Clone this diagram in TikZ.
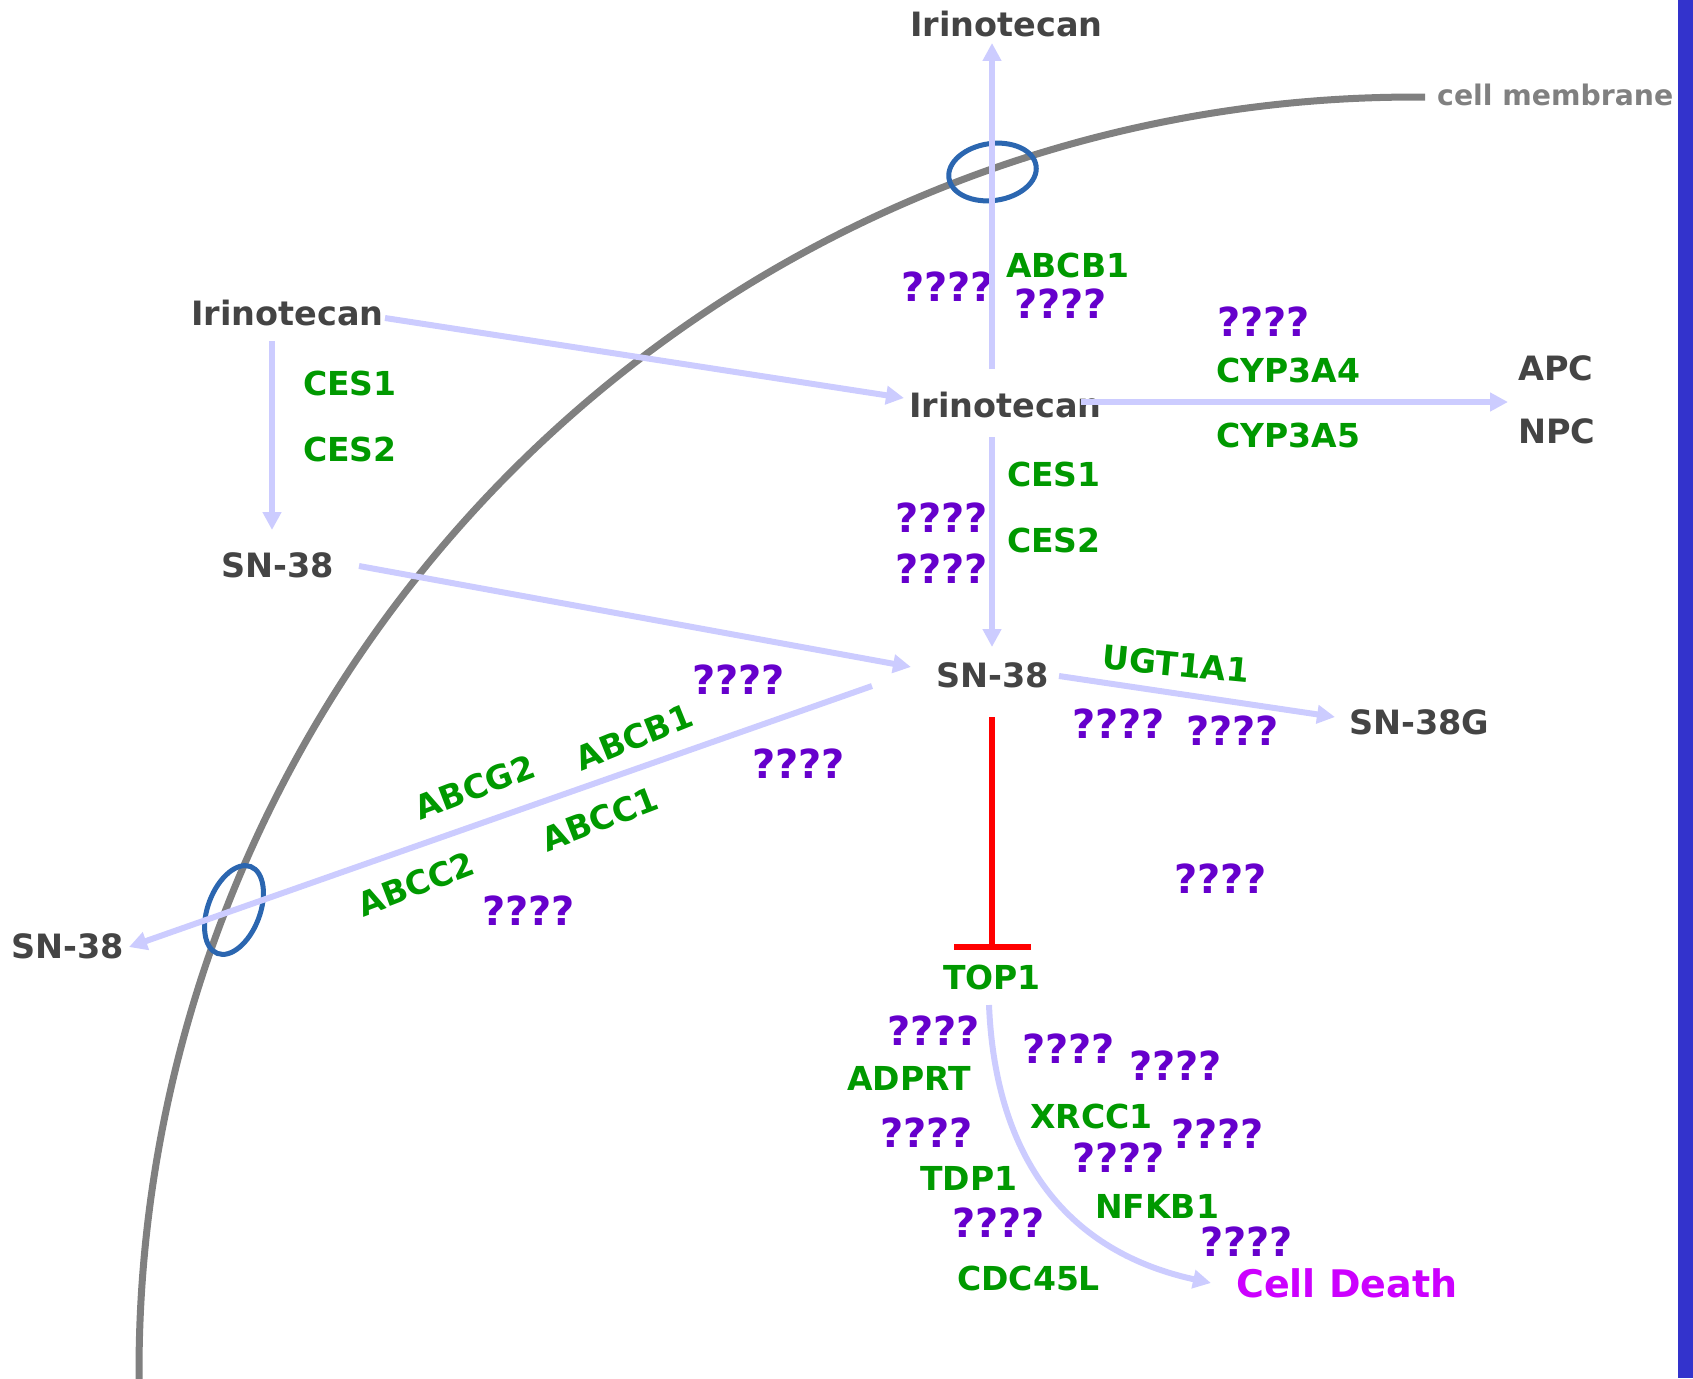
\documentclass[tikz,border=0pt]{standalone}
\usepackage{fontspec}
\setmainfont{DejaVu Sans}
\usetikzlibrary{arrows.meta}

\definecolor{drugGray}{HTML}{444444}
\definecolor{membraneGray}{HTML}{808080}
\definecolor{geneGreen}{HTML}{009900}
\definecolor{qPurple}{HTML}{6600CC}
\definecolor{flowBlue}{HTML}{CCCCFF}
\definecolor{poreBlue}{HTML}{2B66B0}
\definecolor{deathPink}{HTML}{CC00FF}
\definecolor{barBlue}{HTML}{3333CC}

\tikzset{
  drug/.style={text=drugGray, font={\fontsize{33.5}{40}\selectfont\bfseries}, inner sep=0pt, anchor=base west},
  gene/.style={text=geneGreen, font={\fontsize{33}{40}\selectfont\bfseries}, inner sep=0pt, anchor=base west},
  unk/.style={text=qPurple, font={\fontsize{40}{48}\selectfont\bfseries}, inner sep=0pt, anchor=base west},
  flow/.style={draw=flowBlue, line width=6pt, -{Triangle[length=18pt,width=18pt]}},
  pore/.style={draw=poreBlue, line width=5pt},
  inhibit/.style={draw=red, line width=6pt, -{Bar[width=77pt]}},
}

\begin{document}
\begin{tikzpicture}[x=1pt, y=-1pt]
        \useasboundingbox (0,0) rectangle (1693,1378);

        % bar on the right edge
        \fill[barBlue] (1678,0) rectangle (1693,1378);

        % the cell membrane, a quarter circle
        \coordinate (cellCentre) at (1414,1372);
        \draw[membraneGray, line width=7pt] (cellCentre) ++(179:1275) arc[start angle=179, end angle=270.5, radius=1275];
        \node[text=membraneGray, font={\fontsize{28.3}{34}\selectfont\bfseries}, inner sep=0pt, anchor=base west] (membrane) at (1437,106) {cell membrane};

        % transporters in the membrane
        \draw[pore] (992.5,172) circle [x radius=44, y radius=28.5, rotate=8];
        \draw[pore] (234,910) circle [x radius=26, y radius=46.5, rotate=-21];

        % drugs and metabolites
        \node[drug] (irinTop) at (910,37) {Irinotecan};
        \node[drug] (irinIn) at (909,417) {Irinotecan};
        \node[drug] (irinOut) at (191,325) {Irinotecan};
        \node[drug] (snOut) at (221,577) {SN-38};
        \node[drug] (snIn) at (936,687) {SN-38};
        \node[drug] (snExt) at (11,958) {SN-38};
        \node[drug] (snG) at (1349,734) {SN-38G};
        \node[drug] (apc) at (1518,380) {APC};
        \node[drug] (npc) at (1518,443) {NPC};

        % genes
        \node[gene] (abcbTop) at (1006,277) {ABCB1};
        \node[gene] (cypA) at (1216,382) {CYP3A4};
        \node[gene] (cypB) at (1216,447) {CYP3A5};
        \node[gene] (cesOutA) at (303,395) {CES1};
        \node[gene] (cesOutB) at (303,461) {CES2};
        \node[gene] (cesInA) at (1007,486) {CES1};
        \node[gene] (cesInB) at (1007,552) {CES2};
        \node[gene, anchor=center, rotate=-5.5] (ugt) at (1176,664) {UGT1A1};
        \node[gene, anchor=center, rotate=21] (abcg) at (475,787) {ABCG2};
        \node[gene, anchor=center, rotate=22] (abcb) at (634,737) {ABCB1};
        \node[gene, anchor=center, rotate=21] (abccA) at (600,819) {ABCC1};
        \node[gene, anchor=center, rotate=21] (abccB) at (416,884) {ABCC2};
        \node[gene] (top1) at (943,989) {TOP1};
        \node[gene] (adprt) at (847,1090) {ADPRT};
        \node[gene] (tdp1) at (920,1190) {TDP1};
        \node[gene] (cdc45l) at (957,1290) {CDC45L};
        \node[gene] (xrcc1) at (1030,1128) {XRCC1};
        \node[gene] (nfkb1) at (1095,1218) {NFKB1};
        \node[text=deathPink, font={\fontsize{38}{46}\selectfont\bfseries}, inner sep=0pt, anchor=base west] (death) at (1236,1297) {Cell Death};

        % unknown factors
        \foreach \qx/\qy [count=\qi] in {901/301, 1014/318, 1217/336, 895/532, 895/583,
                692/694, 752/778, 482/925, 1072/738, 1186/745, 1174/893,
                887/1045, 880/1147, 952/1237, 1022/1063, 1129/1080,
                1171/1148, 1072/1172, 1200/1256}
            \node[unk] (unk\qi) at (\qx,\qy) {????};

        % arrow ends
        \coordinate (irinIn-up) at (992,369);
        \coordinate (irinTop-in) at (992,43);
        \coordinate (irinIn-east) at (1081,402);
        \coordinate (apc-in) at (1508,402);
        \coordinate (irinOut-east) at (385,318);
        \coordinate (irinIn-west) at (904,398);
        \coordinate (irinOut-down) at (272,341);
        \coordinate (snOut-in) at (272,530);
        \coordinate (snOut-east) at (359,566);
        \coordinate (snIn-west) at (911,667);
        \coordinate (irinIn-down) at (992,437);
        \coordinate (snIn-top) at (992,647);
        \coordinate (snIn-out) at (872,686);
        \coordinate (snExt-in) at (129,947);
        \coordinate (snIn-east) at (1059,676);
        \coordinate (snG-in) at (1335,717);
        \coordinate (snIn-down) at (992,717);
        \coordinate (top1-bar) at (992,950);
        \coordinate (top1-out) at (989,1005);
        \coordinate (death-in) at (1211,1283);

        % the flows
        \draw[flow] (irinIn-up) -- (irinTop-in);
        \draw[flow] (irinIn-east) -- (apc-in);
        \draw[flow] (irinOut-east) -- (irinIn-west);
        \draw[flow] (irinOut-down) -- (snOut-in);
        \draw[flow] (snOut-east) -- (snIn-west);
        \draw[flow] (irinIn-down) -- (snIn-top);
        \draw[flow] (snIn-out) -- (snExt-in);
        \draw[flow] (snIn-east) -- (snG-in);
        \draw[flow] (top1-out) .. controls (995,1150) and (1060,1250) .. (death-in);

        % SN-38 inhibits TOP1
        \draw[inhibit] (snIn-down) -- (top1-bar);
\end{tikzpicture}
\end{document}
